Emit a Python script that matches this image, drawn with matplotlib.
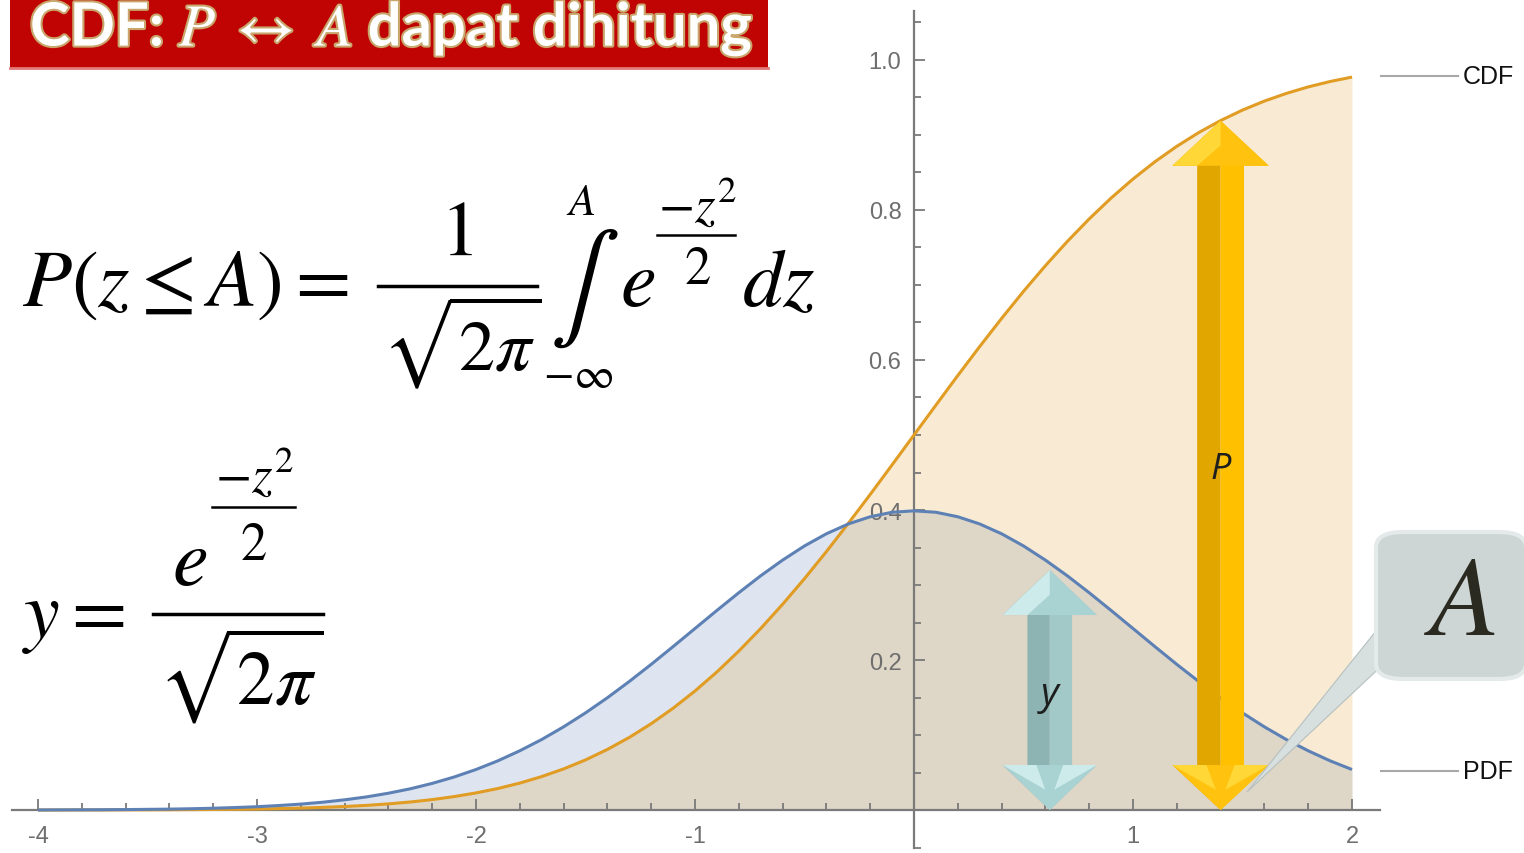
import numpy as np
import matplotlib
matplotlib.use("Agg")
import matplotlib.pyplot as plt
from matplotlib.patches import Polygon, FancyBboxPatch
from matplotlib.lines import Line2D
from matplotlib.ticker import FixedLocator
import matplotlib.patheffects as pe

plt.rcParams['mathtext.fontset'] = 'stix'
plt.rcParams['axes.unicode_minus'] = False
plt.rcParams['font.family'] = ['Liberation Sans', 'DejaVu Sans']

# standard normal curve, read every 0.1
z = [-4.0, -3.9, -3.8, -3.7, -3.6, -3.5, -3.4, -3.3, -3.2, -3.1,
     -3.0, -2.9, -2.8, -2.7, -2.6, -2.5, -2.4, -2.3, -2.2, -2.1,
     -2.0, -1.9, -1.8, -1.7, -1.6, -1.5, -1.4, -1.3, -1.2, -1.1,
     -1.0, -0.9, -0.8, -0.7, -0.6, -0.5, -0.4, -0.3, -0.2, -0.1,
     0.0, 0.1, 0.2, 0.3, 0.4, 0.5, 0.6, 0.7, 0.8, 0.9,
     1.0, 1.1, 1.2, 1.3, 1.4, 1.5, 1.6, 1.7, 1.8, 1.9, 2.0]
pdf = [0.0001, 0.0002, 0.0003, 0.0004, 0.0006, 0.0009, 0.0012, 0.0017, 0.0024, 0.0033,
       0.0044, 0.0060, 0.0079, 0.0104, 0.0136, 0.0175, 0.0224, 0.0283, 0.0355, 0.0440,
       0.0540, 0.0656, 0.0790, 0.0940, 0.1109, 0.1295, 0.1497, 0.1714, 0.1942, 0.2179,
       0.2420, 0.2661, 0.2897, 0.3123, 0.3332, 0.3521, 0.3683, 0.3814, 0.3910, 0.3970,
       0.3989, 0.3970, 0.3910, 0.3814, 0.3683, 0.3521, 0.3332, 0.3123, 0.2897, 0.2661,
       0.2420, 0.2179, 0.1942, 0.1714, 0.1497, 0.1295, 0.1109, 0.0940, 0.0790, 0.0656, 0.0540]
cdf = [0.0000, 0.0000, 0.0001, 0.0001, 0.0002, 0.0002, 0.0003, 0.0005, 0.0007, 0.0010,
       0.0013, 0.0019, 0.0026, 0.0035, 0.0047, 0.0062, 0.0082, 0.0107, 0.0139, 0.0179,
       0.0228, 0.0287, 0.0359, 0.0446, 0.0548, 0.0668, 0.0808, 0.0968, 0.1151, 0.1357,
       0.1587, 0.1841, 0.2119, 0.2420, 0.2743, 0.3085, 0.3446, 0.3821, 0.4207, 0.4602,
       0.5000, 0.5398, 0.5793, 0.6179, 0.6554, 0.6915, 0.7257, 0.7580, 0.7881, 0.8159,
       0.8413, 0.8643, 0.8849, 0.9032, 0.9192, 0.9332, 0.9452, 0.9554, 0.9641, 0.9713, 0.9772]

# the two marked quantities
A_val = 1.4      # upper limit A
P_val = 0.919    # P(z <= A)
y_pos = 0.62     # where y is shown
y_val = 0.32     # height of y there

x_major = [-4, -3, -2, -1, 1, 2]
y_major = [0.2, 0.4, 0.6, 0.8, 1.0]
x_labels = ['-4', '-3', '-2', '-1', '1', '2']
y_labels = ['0.2', '0.4', '0.6', '0.8', '1.0']

BLUE = '#5E81B5'
ORANGE = '#E19C24'
AXC = '#7A7A7A'

W, H = 1524, 854
fig = plt.figure(figsize=(W / 100, H / 100), dpi=100)
ax = fig.add_axes([0, 0, 1, 1])
ax.set_facecolor('white')
ax.set_xlim(-4.1735, 2.7854)
ax.set_ylim(-0.0573, 1.0813)


def fx(px):
    return px / W


def fy(py):
    return 1 - py / H


def put(px, py, s, size, ha='left', va='baseline', **kw):
    fig.text(fx(px), fy(py), s, fontsize=size, ha=ha, va=va, **kw)


def hbar(x0, x1, py, lw=2.2):
    fig.add_artist(Line2D([fx(x0), fx(x1)], [fy(py), fy(py)], lw=lw,
                          color='black', transform=fig.transFigure))


# axes crossing at the origin
for s in ['top', 'right']:
    ax.spines[s].set_visible(False)
ax.spines['left'].set_position(('data', 0))
ax.spines['bottom'].set_position(('data', 0))
ax.spines['left'].set_bounds(-0.05, 1.065)
ax.spines['bottom'].set_bounds(-4.12, 2.13)
for s in ['left', 'bottom']:
    ax.spines[s].set_color(AXC)
    ax.spines[s].set_linewidth(1.6)

ax.xaxis.set_major_locator(FixedLocator(x_major))
ax.yaxis.set_major_locator(FixedLocator(y_major))
ax.set_xticklabels(x_labels)
ax.set_yticklabels(y_labels)
xm = [round(v, 1) for v in np.arange(-4.0, 2.01, 0.2) if abs(v - round(v)) > 1e-6]
ym = [round(v, 2) for v in np.arange(-0.05, 1.06, 0.05) if abs(v * 5 - round(v * 5)) > 1e-6]
ax.xaxis.set_minor_locator(FixedLocator(xm))
ax.yaxis.set_minor_locator(FixedLocator(ym))
ax.tick_params(which='both', direction='in', color=AXC, width=1.3,
               labelcolor='#6E6E6E', labelsize=17)
ax.tick_params(which='major', length=8)
ax.tick_params(which='minor', length=5)
ax.tick_params(axis='x', pad=11)
ax.tick_params(axis='y', pad=9)

# filled curves
ax.fill_between(z, pdf, 0, color=BLUE, alpha=0.2, lw=0, zorder=1)
ax.fill_between(z, cdf, 0, color=ORANGE, alpha=0.2, lw=0, zorder=1.1)
ax.plot(z, cdf, color=ORANGE, lw=2.2, zorder=3, solid_capstyle='butt')
ax.plot(z, pdf, color=BLUE, lw=2.2, zorder=3.1, solid_capstyle='butt')

# labels at the curve ends
for py, name in [(77, 'CDF'), (772, 'PDF')]:
    fig.add_artist(Line2D([fx(1381), fx(1458)], [fy(py), fy(py)], lw=1.5,
                          color='#A8A8A8', transform=fig.transFigure))
    put(1463, py, name, 18, va='center', color='#111111')


def double_arrow(x, y0, y1, sw, hw, hl, dark, light, head, bevel, z=4):
    top = y1 - hl
    bot = y0 + hl
    left = [(x, y1), (x - hw, top), (x - sw, top), (x - sw, bot), (x - hw, bot), (x, y0)]
    right = [(x, y1), (x + hw, top), (x + sw, top), (x + sw, bot), (x + hw, bot), (x, y0)]
    ax.add_patch(Polygon(left, closed=True, fc=dark, ec='none', zorder=z))
    ax.add_patch(Polygon(right, closed=True, fc=light, ec='none', zorder=z))
    # heads
    ax.add_patch(Polygon([(x, y1), (x - hw, top), (x + hw, top)], fc=head, ec='none', zorder=z + 0.1))
    ax.add_patch(Polygon([(x, y0), (x - hw, bot), (x + hw, bot)], fc=head, ec='none', zorder=z + 0.1))
    # bevels
    ax.add_patch(Polygon([(x - hw, top), (x, y1), (x, y1 - hl * 0.55), (x - sw, top)],
                         fc=bevel, ec='none', zorder=z + 0.2))
    ax.add_patch(Polygon([(x - hw, bot), (x - sw * 0.6, bot), (x - sw * 0.2, y0 + hl * 0.45)],
                         fc=bevel, ec='none', zorder=z + 0.2))
    ax.add_patch(Polygon([(x + hw, bot), (x + sw * 0.6, bot), (x + sw * 0.2, y0 + hl * 0.45)],
                         fc=bevel, ec='none', zorder=z + 0.2))


double_arrow(A_val, 0.0, P_val, 0.107, 0.22, 0.06,
             '#E2A600', '#FFC000', '#FFC20E', '#FFD838')
double_arrow(y_pos, 0.0, y_val, 0.102, 0.215, 0.06,
             '#8DB3B3', '#A3C8C8', '#A9D2D2', '#CDEBEB')
ax.text(A_val, 0.455, 'P', fontsize=26, style='italic', color='#1E1E1E',
        ha='center', va='center', zorder=6, family='Open Sans')
ax.text(y_pos, 0.155, 'y', fontsize=28, style='italic', color='#1E1E1E',
        ha='center', va='center', zorder=6, family='Open Sans')

# callout box for A
ptr = Polygon([(fx(1392), fy(612)), (fx(1404), fy(646)), (fx(1247), fy(793))],
              closed=True, fc='#D8DFDF', ec='#B6C0C0', lw=0.8,
              transform=fig.transFigure, zorder=7)
fig.add_artist(ptr)
box = FancyBboxPatch((fx(1376), fy(680)), fx(150), 147 / H,
                     boxstyle='round,pad=0,rounding_size=0.018',
                     fc='#CDD5D5', ec='#E4EAEA', lw=3,
                     transform=fig.transFigure, zorder=8)
fig.add_artist(box)
put(1460, 606, r'$A$', 82, ha='center', va='center', color='#2A2A20', zorder=9)

# title banner
banner = FancyBboxPatch((fx(10), fy(70)), fx(758), 70 / H, boxstyle='square,pad=0',
                        fc='#C00404', ec='none', transform=fig.transFigure, zorder=8)
fig.add_artist(banner)
fig.add_artist(Line2D([fx(10), fx(768)], [fy(69), fy(69)], lw=2, color='#E37A7A',
                      transform=fig.transFigure, zorder=8.5))
put(30, 47, r'CDF: $P$ $\leftrightarrow$ $A$ dapat dihitung', 43,
    color='white', weight='bold', family='Lato', zorder=9,
    path_effects=[pe.withStroke(linewidth=3, foreground='#C9A66C')])

# cumulative probability formula
put(22, 306, r'$P(z \leq A) =$', 58)
put(456, 255, r'$1$', 56, ha='center')
hbar(378, 537, 287, lw=2.5)
put(382, 370, r'$\sqrt{2\pi}$', 52)
put(584, 315, r'$\int$', 75, ha='center')
put(581, 215, r'$A$', 32, ha='center')
put(578, 388, r'$-\infty$', 32, ha='center')
put(620, 306, r'$e$', 58)
put(658, 222, r'$-z^2$', 38)
hbar(657, 735, 236, lw=1.8)
put(697, 284, r'$2$', 38, ha='center')
put(742, 306, r'$dz$', 58)

# density formula
put(22, 637, r'$y =$', 58)
put(172, 585, r'$e$', 58)
put(215, 492, r'$-z^2$', 38)
hbar(212, 295, 508, lw=1.8)
put(253, 560, r'$2$', 38, ha='center')
hbar(153, 323, 615, lw=2.5)
put(158, 705, r'$\sqrt{2\pi}$', 54)

fig.savefig('out.png', dpi=100)
